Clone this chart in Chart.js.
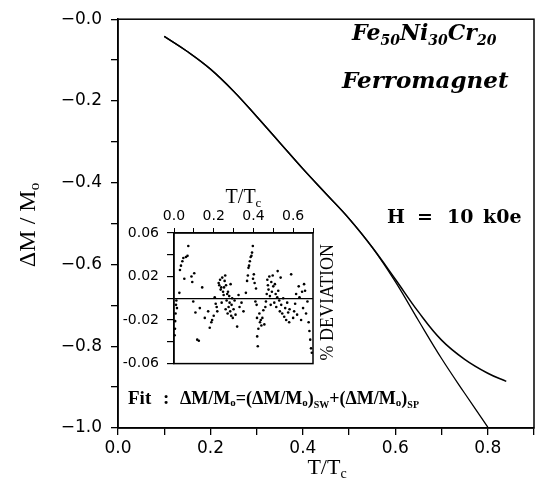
<!DOCTYPE html>
<html>
<head>
<meta charset="utf-8">
<script src="https://cdn.jsdelivr.net/npm/chart.js@4"></script>
<style>
  html, body { margin: 0; padding: 0; background: #fff; }
  #wrap { position: relative; width: 537px; height: 479px; }
  #main { position: absolute; left: 0; top: 0; }
  #inset { position: absolute; left: 110px; top: 185px; }
</style>
</head>
<body>
<div id="wrap">
  <canvas id="main" width="537" height="479"></canvas>
  <canvas id="inset" width="240" height="195"></canvas>
</div>
<script>
// main curve: measured dM/M0 vs T/Tc
const tData = [0.10, 0.15, 0.20, 0.25, 0.30, 0.35, 0.40, 0.45, 0.50, 0.55, 0.60, 0.65, 0.70, 0.75, 0.80, 0.84];
const mData = [-0.042, -0.079, -0.122, -0.176, -0.238, -0.302, -0.366, -0.427, -0.488, -0.558, -0.636, -0.716, -0.785, -0.832, -0.866, -0.886];

// fit curve (SW + SP)
const tFit = [0.10, 0.15, 0.20, 0.25, 0.30, 0.35, 0.40, 0.45, 0.50, 0.55, 0.60, 0.65, 0.70, 0.75, 0.80];
const mFit = [-0.042, -0.079, -0.122, -0.176, -0.238, -0.302, -0.366, -0.427, -0.488, -0.558, -0.642, -0.737, -0.830, -0.915, -0.998];

// inset: % deviation of the fit
const tDev = [0.003, 0.005, 0.006, 0.008, 0.010, 0.012, 0.015, 0.027, 0.030, 0.035, 0.042, 0.047, 0.052, 0.060, 0.068, 0.072,
  0.088, 0.092, 0.097, 0.102, 0.108, 0.117, 0.125, 0.130, 0.142, 0.155, 0.172, 0.180, 0.188, 0.192, 0.200, 0.205,
  0.210, 0.215, 0.218, 0.225, 0.228, 0.232, 0.235, 0.238, 0.240, 0.243, 0.247, 0.250, 0.252, 0.255, 0.258, 0.260,
  0.262, 0.265, 0.268, 0.270, 0.272, 0.275, 0.278, 0.280, 0.283, 0.285, 0.288, 0.290, 0.293, 0.296, 0.300, 0.305,
  0.310, 0.318, 0.325, 0.330, 0.340, 0.350, 0.362, 0.368, 0.372, 0.375, 0.378, 0.382, 0.386, 0.390, 0.393, 0.397,
  0.398, 0.402, 0.406, 0.410, 0.413, 0.416, 0.418, 0.419, 0.422, 0.425, 0.430, 0.433, 0.437, 0.440, 0.445, 0.450,
  0.455, 0.460, 0.463, 0.467, 0.470, 0.473, 0.476, 0.480, 0.483, 0.487, 0.490, 0.493, 0.497, 0.500, 0.505, 0.508,
  0.512, 0.515, 0.520, 0.522, 0.525, 0.530, 0.533, 0.537, 0.540, 0.545, 0.550, 0.555, 0.560, 0.565, 0.570, 0.575,
  0.580, 0.582, 0.590, 0.600, 0.605, 0.610, 0.615, 0.620, 0.628, 0.632, 0.640, 0.645, 0.650, 0.655, 0.660, 0.665,
  0.672, 0.678, 0.682, 0.686, 0.690, 0.694];
const dDev = [-0.034, -0.028, -0.021, -0.014, -0.006, -0.002, -0.009, 0.005, 0.026, 0.030, 0.034, 0.037, 0.018, 0.038, 0.039, 0.048,
  0.020, 0.015, -0.003, 0.023, -0.013, -0.038, -0.039, -0.009, 0.010, -0.018, -0.012, -0.027, -0.022, -0.020, -0.016, 0.001,
  -0.005, -0.008, -0.012, 0.014, 0.012, 0.017, 0.008, 0.010, -0.004, 0.019, 0.006, 0.003, 0.010, 0.016, 0.021, -0.010,
  0.012, -0.002, 0.004, -0.014, 0.006, -0.008, 0.002, -0.004, -0.012, 0.013, -0.016, -0.006, 0.000, -0.018, -0.010, -0.002,
  -0.015, -0.026, 0.003, -0.008, -0.004, -0.012, 0.005, 0.016, 0.021, 0.028, 0.030, 0.034, 0.038, 0.039, 0.042, 0.048,
  0.018, 0.022, 0.014, -0.003, 0.009, -0.006, -0.018, -0.035, -0.044, -0.028, -0.014, -0.022, -0.020, -0.025, -0.018, -0.011,
  -0.024, -0.008, -0.003, 0.004, 0.017, 0.012, 0.008, 0.020, 0.002, -0.006, 0.015, 0.006, 0.021, 0.011, -0.004, 0.013,
  0.004, -0.008, 0.001, 0.025, 0.007, -0.002, -0.012, 0.019, -0.006, -0.014, 0.000, -0.017, -0.009, -0.020, -0.004, -0.013,
  -0.022, -0.010, 0.022, -0.018, -0.012, -0.005, 0.004, -0.015, 0.011, 0.001, -0.020, 0.006, -0.009, 0.013, 0.007, -0.014,
  -0.003, -0.022, -0.030, -0.038, -0.046, -0.050, -0.053, -0.056];

const serif = '"Liberation Serif", "Times New Roman", serif';
const dserif = '"DejaVu Serif", serif';
const sans = '"DejaVu Sans", sans-serif';

// draws a list of [text, font, dy] pieces one after the other
function drawRuns(ctx, x, y, runs) {
  let cx = x;
  runs.forEach(([t, font, dy]) => {
    ctx.font = font;
    ctx.fillText(t, cx, y + (dy || 0));
    cx += ctx.measureText(t).width;
  });
  return cx - x;
}
function runsWidth(ctx, runs) {
  let w = 0;
  runs.forEach(([t, font]) => { ctx.font = font; w += ctx.measureText(t).width; });
  return w;
}

const boxPlugin = {
  id: 'box',
  afterDraw(chart) {
    const { ctx, chartArea: a } = chart;
    ctx.save();
    ctx.strokeStyle = '#000';
    ctx.lineWidth = 1.5;
    ctx.strokeRect(a.left, a.top, a.right - a.left, a.bottom - a.top);
    ctx.restore();
  }
};

const mainText = {
  id: 'mainText',
  afterDraw(chart) {
    const ctx = chart.ctx;
    ctx.save();
    ctx.fillStyle = '#000';
    ctx.textBaseline = 'alphabetic';
    ctx.textAlign = 'left';

    const bi = s => 'italic bold ' + s + 'px ' + dserif;
    drawRuns(ctx, 352, 40, [['Fe', bi(22)], ['50', bi(14), 5], ['Ni', bi(22)], ['30', bi(14), 5], ['Cr', bi(22)], ['20', bi(14), 5]]);
    drawRuns(ctx, 342, 88, [['Ferromagnet', bi(23)]]);

    ctx.font = 'bold 19px ' + dserif;
    ctx.fillText('H', 387, 223);
    ctx.fillText('=', 417, 223);
    ctx.fillText('10', 447, 223);
    ctx.fillText('k0e', 483, 223);

    const b = s => 'bold ' + s + 'px ' + serif;
    drawRuns(ctx, 128, 404, [['Fit', b(19)]]);
    drawRuns(ctx, 163, 404, [[':', b(19)]]);
    drawRuns(ctx, 180, 404, [
      ['\u0394M/M', b(18)], ['o', b(11), 2], ['=(\u0394M/M', b(18)], ['o', b(11), 2], [')', b(18)], ['SW', b(10), 4],
      ['+(\u0394M/M', b(18)], ['o', b(11), 2], [')', b(18)], ['SP', b(10), 4]
    ]);

    // axis titles
    const r = s => s + 'px ' + serif;
    const xt = [['T/T', r(22)], ['c', r(14), 4]];
    drawRuns(ctx, 327 - runsWidth(ctx, xt) / 2, 474, xt);

    const yt = [['\u0394M / M', r(24)], ['o', r(15), 4]];
    ctx.translate(35, 225);
    ctx.rotate(-Math.PI / 2);
    drawRuns(ctx, -runsWidth(ctx, yt) / 2, 0, yt);
    ctx.restore();
  }
};

const insetText = {
  id: 'insetText',
  afterDraw(chart) {
    const ctx = chart.ctx;
    const a = chart.chartArea;
    ctx.save();
    ctx.fillStyle = '#000';
    const r = s => s + 'px ' + serif;
    const tt = [['T/T', r(20)], ['c', r(13), 4]];
    drawRuns(ctx, (a.left + a.right) / 2 - runsWidth(ctx, tt) / 2, 18, tt);

    const dv = [['% DEVIATION', r(18)]];
    ctx.translate(223, (a.top + a.bottom) / 2 + 4);
    ctx.rotate(-Math.PI / 2);
    drawRuns(ctx, -runsWidth(ctx, dv) / 2, 0, dv);
    ctx.restore();
  }
};

Chart.defaults.color = '#000';

new Chart(document.getElementById('main'), {
  type: 'line',
  data: {
    datasets: [
      {
        label: 'data',
        data: tData.map((t, i) => ({ x: t, y: mData[i] })),
        borderColor: '#000', borderWidth: 1.5, pointRadius: 0,
        tension: 0.4, fill: false
      },
      {
        label: 'fit',
        data: tFit.map((t, i) => ({ x: t, y: mFit[i] })),
        borderColor: '#000', borderWidth: 1.3, pointRadius: 0,
        tension: 0.4, fill: false
      }
    ]
  },
  options: {
    responsive: false,
    animation: false,
    devicePixelRatio: 1,
    layout: { padding: { top: 15, right: 1, left: 0, bottom: 0 } },
    plugins: { legend: { display: false }, tooltip: { enabled: false } },
    scales: {
      x: {
        type: 'linear', min: 0, max: 0.9,
        afterFit: s => { s.height = 51; },
        border: { color: '#000', width: 1.5 },
        grid: { drawOnChartArea: false, color: '#000', tickLength: 7, lineWidth: 1.3 },
        ticks: {
          stepSize: 0.1, autoSkip: false, maxRotation: 0, padding: 3,
          font: { family: sans, size: 17 },
          callback: v => Math.round(v * 10) % 2 === 0 ? v.toFixed(1) : ''
        }
      },
      y: {
        min: -1, max: 0,
        afterFit: s => { s.width = 118; },
        border: { color: '#000', width: 1.5 },
        grid: { drawOnChartArea: false, color: '#000', tickLength: 7, lineWidth: 1.3 },
        ticks: {
          stepSize: 0.1, autoSkip: false, padding: 9,
          font: { family: sans, size: 17 },
          callback: v => Math.round(v * 10) % 2 === 0 ? '\u2212' + Math.abs(v).toFixed(1) : ''
        }
      }
    }
  },
  plugins: [boxPlugin, mainText]
});

new Chart(document.getElementById('inset'), {
  type: 'scatter',
  data: {
    datasets: [{
      label: 'deviation',
      data: tDev.map((t, i) => ({ x: t, y: dDev[i] })),
      backgroundColor: '#000', borderWidth: 0, pointRadius: 1.3
    }]
  },
  options: {
    responsive: false,
    animation: false,
    devicePixelRatio: 1,
    layout: { padding: { top: 0, right: 37, left: 0, bottom: 9 } },
    plugins: { legend: { display: false }, tooltip: { enabled: false } },
    scales: {
      x: {
        type: 'linear', position: 'top', min: 0, max: 0.7,
        afterFit: s => { s.height = 48; },
        border: { color: '#000', width: 1.3 },
        grid: { drawOnChartArea: false, color: '#000', tickLength: 5 },
        ticks: {
          stepSize: 0.1, autoSkip: false, maxRotation: 0, padding: 3,
          font: { family: sans, size: 14 },
          callback: v => Math.round(v * 10) % 2 === 0 ? v.toFixed(1) : ''
        }
      },
      y: {
        min: -0.06, max: 0.06,
        afterFit: s => { s.width = 64; },
        border: { color: '#000', width: 1.3 },
        grid: {
          color: c => (c.tick && Math.abs(c.tick.value) < 1e-9) ? '#000' : 'rgba(0,0,0,0)',
          tickColor: '#000', tickLength: 7, lineWidth: 1.2
        },
        ticks: {
          stepSize: 0.02, autoSkip: false, padding: 8,
          font: { family: sans, size: 14 },
          callback: v => {
            const k = Math.round(v * 100);
            return (Math.abs(k) === 2 || Math.abs(k) === 6) ? v.toFixed(2) : '';
          }
        }
      }
    }
  },
  plugins: [boxPlugin, insetText]
});
</script>
</body>
</html>
